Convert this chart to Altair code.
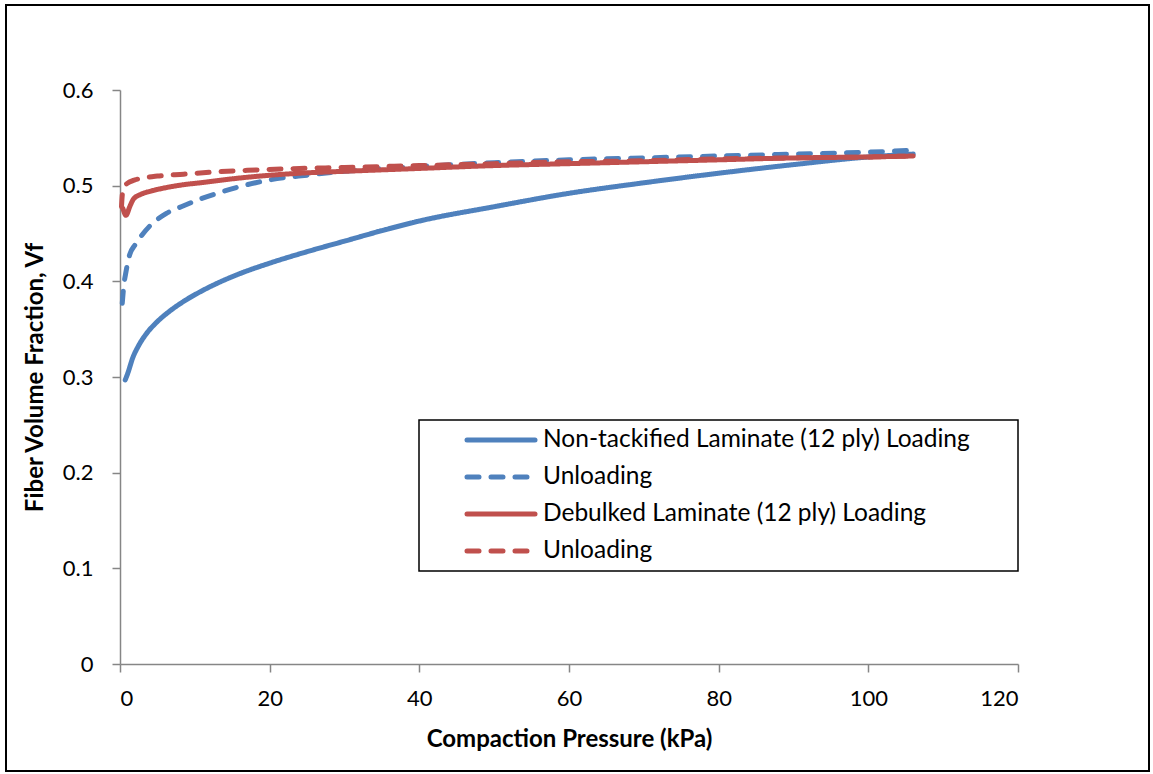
import altair as alt
import pandas as pd

# Compaction curves: pressure (kPa) vs fiber volume fraction
nt_load_p = [0.7, 1.0, 1.7, 2.5, 3.5, 5, 6.5, 8.5, 10.7, 13, 16, 20, 25, 30, 35, 40, 50, 60, 70, 80, 90, 100, 106]
nt_load_v = [0.297, 0.303, 0.320, 0.333, 0.345, 0.358, 0.368, 0.379, 0.389, 0.398, 0.408, 0.419, 0.431, 0.442,
             0.453, 0.463, 0.478, 0.492, 0.503, 0.513, 0.522, 0.530, 0.533]

nt_unload_p = [0.3, 0.5, 0.8, 1.3, 2.0, 2.7, 4, 6.2, 8.5, 10.7, 13, 16, 20, 25, 30, 40, 50, 60, 70, 80, 90, 100, 106]
nt_unload_v = [0.377, 0.395, 0.410, 0.428, 0.438, 0.446, 0.458, 0.471, 0.479, 0.486, 0.492, 0.499, 0.506, 0.511,
               0.515, 0.520, 0.524, 0.527, 0.529, 0.531, 0.533, 0.535, 0.537]

db_load_p = [0.4, 0.8, 1.3, 1.8, 2.8, 4, 6.2, 8.5, 10.7, 16, 24, 30, 40, 50, 60, 70, 80, 90, 100, 106]
db_load_v = [0.476, 0.469, 0.478, 0.486, 0.491, 0.494, 0.498, 0.501, 0.503, 0.508, 0.513, 0.515, 0.518, 0.521,
             0.523, 0.525, 0.527, 0.529, 0.530, 0.531]

db_unload_p = [0.2, 0.3, 0.5, 0.9, 2, 3.1, 5, 8.5, 12, 17, 24, 30, 40, 50, 60, 70, 80, 90, 100, 106]
db_unload_v = [0.478, 0.490, 0.498, 0.502, 0.506, 0.508, 0.510, 0.512, 0.514, 0.516, 0.518, 0.519, 0.521, 0.523,
               0.525, 0.526, 0.528, 0.529, 0.530, 0.531]

series_keys = ["nt_load", "nt_unload", "db_load", "db_unload"]
series_labels = ["Non-tackified Laminate (12 ply) Loading", "Unloading",
                 "Debulked Laminate (12 ply) Loading", "Unloading"]
series_colors = ["#4F81BD", "#4F81BD", "#C0504D", "#C0504D"]
series_dashes = [[1, 0], [12, 12], [1, 0], [12, 12]]

x_ticks = [0, 20, 40, 60, 80, 100, 120]
y_ticks = [0, 0.1, 0.2, 0.3, 0.4, 0.5, 0.6]

FONT = "Lato"
W, H = 898, 574

frames = []
for key, p, v in [("nt_load", nt_load_p, nt_load_v), ("nt_unload", nt_unload_p, nt_unload_v),
                  ("db_load", db_load_p, db_load_v), ("db_unload", db_unload_p, db_unload_v)]:
    frames.append(pd.DataFrame({"pressure": p, "vf": v, "series": key}))
df = pd.concat(frames, ignore_index=True)

lines = alt.Chart(df).mark_line(strokeWidth=5, strokeCap="round", interpolate="monotone").encode(
    x=alt.X("pressure:Q", scale=alt.Scale(domain=[0, 120], nice=False),
            axis=alt.Axis(values=x_ticks, title="Compaction Pressure (kPa)", format="d")),
    y=alt.Y("vf:Q", scale=alt.Scale(domain=[0, 0.6], nice=False),
            axis=alt.Axis(values=y_ticks, title="Fiber Volume Fraction, Vf", format="~g")),
    color=alt.Color("series:N", scale=alt.Scale(domain=series_keys, range=series_colors), legend=None),
    strokeDash=alt.StrokeDash("series:N", scale=alt.Scale(domain=series_keys, range=series_dashes), legend=None),
    order="pressure:Q",
)

one = pd.DataFrame({"k": [0]})

# Outer chart frame
frame = alt.Chart(one).mark_rect(filled=False, stroke="black", strokeWidth=2).encode(
    x=alt.value(-114), x2=alt.value(1029), y=alt.value(-85), y2=alt.value(681)
)

# Legend box and entries
legend_box = alt.Chart(one).mark_rect(filled=False, stroke="black", strokeWidth=1.5).encode(
    x=alt.value(299), x2=alt.value(898), y=alt.value(330), y2=alt.value(481)
)

legend_layers = [legend_box]
for i, (lab, col, dash) in enumerate(zip(series_labels, series_colors, series_dashes)):
    ly = 350 + i * 37
    rule_kwargs = dict(color=col, strokeWidth=5, strokeCap="round")
    if dash != [1, 0]:
        rule_kwargs["strokeDash"] = dash
    legend_layers.append(
        alt.Chart(one).mark_rule(**rule_kwargs).encode(
            x=alt.value(347), x2=alt.value(415), y=alt.value(ly)
        )
    )
    legend_layers.append(
        alt.Chart(pd.DataFrame({"label": [lab]})).mark_text(
            align="left", baseline="middle", font=FONT, fontSize=24.5, color="black"
        ).encode(x=alt.value(423), y=alt.value(ly), text="label:N")
    )

chart = alt.layer(frame, lines, *legend_layers).properties(
    width=W, height=H,
    autosize=alt.AutoSizeParams(type="none"),
    padding={"left": 120, "top": 90, "right": 135, "bottom": 110},
    background="white",
).configure_view(stroke=None).configure_axis(
    grid=False,
    domainColor="#868686", domainWidth=1.5,
    tickColor="#868686", tickWidth=1.5, tickSize=8,
    labelFont=FONT, labelFontSize=22, labelColor="black",
    titleFont=FONT, titleFontSize=24, titleFontWeight="bold", titleColor="black",
).configure_axisX(labelPadding=16, titlePadding=18).configure_axisY(labelPadding=19, titlePadding=15)

chart.save("out.html", embed_options={"renderer": "svg", "actions": False})
